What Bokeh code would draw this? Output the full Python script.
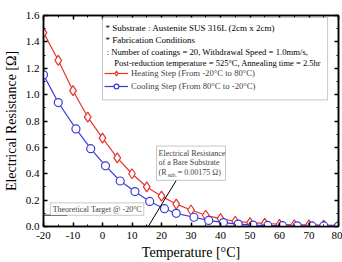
from bokeh.plotting import figure
from bokeh.models import (Range1d, LinearAxis, SingleIntervalTicker, BoxAnnotation,
                          Label, Legend, LegendItem, PrintfTickFormatter)
from bokeh.embed import file_html
from bokeh.resources import INLINE

# Resistance of the coated substrate vs. temperature
temp_heat = [-20, -15, -10, -5, 0, 5, 10, 15, 20, 25, 30, 35, 40, 45, 50, 55, 60, 65, 70, 75, 80]
r_heat = [1.47, 1.26, 1.03, 0.83, 0.67, 0.52, 0.40, 0.30, 0.23, 0.17, 0.125, 0.085, 0.06,
          0.04, 0.03, 0.024, 0.017, 0.013, 0.012, 0.010, 0.008]
temp_cool = [-20, -15, -9, -4, 1, 6, 11, 16, 21, 25, 31, 36, 41, 46, 51, 56, 61, 66, 71, 75, 80]
r_cool = [1.15, 0.94, 0.74, 0.59, 0.46, 0.345, 0.265, 0.19, 0.135, 0.10, 0.07, 0.046, 0.03,
          0.018, 0.011, 0.008, 0.006, 0.005, 0.004, 0.004, 0.003]

x_ticks = [-20, -10, 0, 10, 20, 30, 40, 50, 60, 70, 80]
x_tick_labels = ["-20", "-10", "0", "10", "20", "30", "40", "50", "60", "70", "80"]

r_bare = 0.00175          # bare substrate resistance
r_target = 0.085          # theoretical target at -20 C
x_span = [-20, 80]

FONT = "Liberation Serif"
RED = "#e8332d"
BLUE = "#3b3bdc"

p = figure(width=342, height=262, output_backend="svg", toolbar_location=None,
           x_range=Range1d(-20, 80), y_range=Range1d(0, 1.6),
           min_border_left=38, min_border_right=4, min_border_top=15, min_border_bottom=32,
           x_axis_label="Temperature [\u00b0C]", y_axis_label="Electrical Resistance [\u03a9]")
p.xgrid.visible = False
p.ygrid.visible = False
p.outline_line_color = "black"
p.outline_line_width = 1.5
p.background_fill_color = "white"
p.border_fill_color = "white"

p.xaxis.ticker = SingleIntervalTicker(interval=10, num_minor_ticks=2)
p.yaxis.ticker = SingleIntervalTicker(interval=0.2, num_minor_ticks=2)
p.xaxis.major_label_overrides = dict(zip(x_ticks, x_tick_labels))
p.yaxis.formatter = PrintfTickFormatter(format="%.1f")

for ax in (p.xaxis[0], p.yaxis[0]):
    ax.axis_line_width = 1.5
    ax.major_tick_in = 4
    ax.major_tick_out = 0
    ax.minor_tick_in = 2
    ax.minor_tick_out = 0
    ax.major_tick_line_width = 1.5
    ax.major_label_text_font = FONT
    ax.major_label_text_font_size = "11px"
    ax.major_label_text_color = "black"
    ax.axis_label_text_font = FONT
    ax.axis_label_text_font_size = "14px"
    ax.axis_label_text_font_style = "normal"
    ax.axis_label_text_color = "black"
p.xaxis.major_label_standoff = 5
p.xaxis.axis_label_standoff = 3
p.yaxis.major_label_standoff = 4
p.yaxis.axis_label_standoff = 4

# mirrored tick marks on top and right
top = LinearAxis(ticker=SingleIntervalTicker(interval=10, num_minor_ticks=2))
right = LinearAxis(ticker=SingleIntervalTicker(interval=0.2, num_minor_ticks=2))
for ax in (top, right):
    ax.major_tick_in = 4
    ax.major_tick_out = 0
    ax.minor_tick_in = 2
    ax.minor_tick_out = 0
    ax.major_tick_line_width = 1.5
    ax.axis_line_width = 1.5
    ax.major_label_text_font_size = "1px"
    ax.major_label_text_color = None
    ax.major_label_standoff = 0
p.add_layout(top, "above")
p.add_layout(right, "right")

# bare-substrate reference level
p.line(x_span, [r_bare, r_bare], line_color="#b8b040", line_width=1.5, line_dash="2 3")

# theoretical target marker
p.line([-20, -12], [r_target, r_target], line_color="#666666", line_width=1.5)

# measured curves
hl = p.line(temp_heat, r_heat, line_color=RED, line_width=1.2)
hs = p.scatter(temp_heat, r_heat, marker="diamond", size=10, line_color=RED,
               fill_color="white", line_width=1.2)
cl = p.line(temp_cool, r_cool, line_color=BLUE, line_width=1.2)
cs = p.scatter(temp_cool, r_cool, marker="circle", size=8, line_color=BLUE,
               fill_color="white", line_width=1.2)

# conditions box
p.add_layout(BoxAnnotation(left=0, right=76.3, top=1.585, bottom=0.96,
                           fill_color="white", fill_alpha=1, line_color="#444444",
                           line_width=1, level="overlay"))
info = ["* Substrate : Austenite SUS 316L (2cm x 2cm)",
        "* Fabrication Conditions",
        ": Number of coatings = 20, Withdrawal Speed = 1.0mm/s,",
        "Post-reduction temperature = 525\u00b0C, Annealing time = 2.5hr"]
info_x = [1.0, 1.0, 1.4, 4.0]
info_y = [1.503, 1.414, 1.325, 1.243]
info_size = ["9px", "9px", "8.7px", "8.5px"]
for t, x, y, s in zip(info, info_x, info_y, info_size):
    p.add_layout(Label(x=x, y=y, text=t, text_font=FONT, text_font_size=s,
                       text_baseline="middle", text_color="black", level="overlay"))

legend = Legend(items=[
    LegendItem(label="Heating Step (From -20\u00b0C to 80\u00b0C)", renderers=[hl, hs]),
    LegendItem(label="Cooling Step (From 80\u00b0C to -20\u00b0C)", renderers=[cl, cs]),
], location=(61, 134), padding=0, margin=0, spacing=1, glyph_height=12, glyph_width=24,
    label_height=12, label_standoff=3, label_text_font=FONT, label_text_font_size="8.7px",
    border_line_color=None, background_fill_alpha=0)
p.add_layout(legend, "center")

# bare substrate callout
p.line([15.5, 25], [0.0, 0.35], line_color="black", line_width=1)
p.add_layout(BoxAnnotation(left=18.3, right=41.7, top=0.61, bottom=0.35,
                           fill_color="white", fill_alpha=1, line_color="#444444",
                           line_width=1))
for t, y in zip(["Electrical Resistance", "of a Bare Substrate"], [0.551, 0.484]):
    p.add_layout(Label(x=19.0, y=y, text=t, text_font=FONT, text_font_size="8px",
                       text_baseline="middle"))
p.add_layout(Label(x=19.0, y=0.41, text="(R", text_font=FONT, text_font_size="8px",
                   text_baseline="middle"))
p.add_layout(Label(x=22.1, y=0.39, text="sub.", text_font=FONT, text_font_size="5.5px",
                   text_baseline="middle"))
p.add_layout(Label(x=25.5, y=0.41, text="= 0.00175 \u03a9)", text_font=FONT,
                   text_font_size="8px", text_baseline="middle"))

# theoretical target callout
p.add_layout(BoxAnnotation(left=-17.7, right=14.0, top=0.179, bottom=0.085,
                           fill_color="white", fill_alpha=1, line_color="#444444",
                           line_width=1))
p.add_layout(Label(x=-16.9, y=0.132, text="Theoretical Target @ -20\u00b0C", text_font=FONT,
                   text_font_size="8px", text_baseline="middle"))

open("out.html", "w").write(file_html(p, INLINE))
